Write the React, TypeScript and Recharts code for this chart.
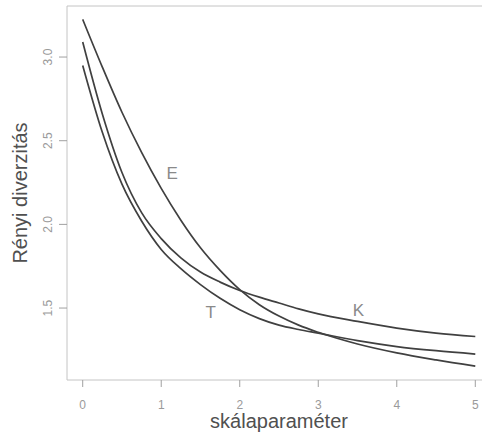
import React from 'react';
import { LineChart, Line, XAxis, YAxis, ReferenceArea, ReferenceDot } from 'recharts';

// scale parameter values (x)
const scaleParams = [0, 0.25, 0.5, 0.75, 1, 1.25, 1.5, 1.75, 2, 2.25, 2.5, 2.75, 3, 3.5, 4, 4.5, 5];

// Renyi diversity profiles
const seriesE = [3.225, 2.94, 2.67, 2.43, 2.215, 2.025, 1.86, 1.725, 1.61, 1.52, 1.452, 1.398, 1.355, 1.285, 1.232, 1.19, 1.153];
const seriesK = [3.09, 2.66, 2.31, 2.07, 1.915, 1.8, 1.715, 1.655, 1.605, 1.565, 1.53, 1.495, 1.465, 1.42, 1.38, 1.35, 1.33];
const seriesT = [2.95, 2.55, 2.24, 2.02, 1.85, 1.735, 1.64, 1.558, 1.49, 1.437, 1.398, 1.372, 1.35, 1.305, 1.27, 1.245, 1.225];

const xTicks = [0, 1, 2, 3, 4, 5];
const yTicks = [1.5, 2.0, 2.5, 3.0];

// curve name labels placed inside the plot
const curveLabels = [
  { name: 'E', x: 1.14, y: 2.31 },
  { name: 'K', x: 3.51, y: 1.488 },
  { name: 'T', x: 1.63, y: 1.476 },
];

const xDomain: [number, number] = [-0.2, 5.2];
const yDomain: [number, number] = [1.07, 3.305];

const data = scaleParams.map((s, i) => ({ s, E: seriesE[i], K: seriesK[i], T: seriesT[i] }));

const FONT = '"Liberation Sans", Arial, Helvetica, sans-serif';
const CURVE = '#404040';

const YTick = ({ x, y, payload }: any) => (
  <text
    x={x}
    y={y}
    transform={`rotate(-90, ${x}, ${y})`}
    textAnchor="middle"
    fill="#9a9a9a"
    fontSize={12}
    fontFamily={FONT}
  >
    {Number(payload.value).toFixed(1)}
  </text>
);

export default function App() {
  return (
    <div style={{ position: 'absolute', left: 0, top: 0, width: 482, height: 434, overflow: 'hidden', background: '#fff' }}>
      <LineChart width={491} height={434} data={data} margin={{ top: 6, right: 0, bottom: 0, left: 0 }}>
        <XAxis
          dataKey="s"
          type="number"
          domain={xDomain}
          ticks={xTicks}
          allowDataOverflow
          height={54}
          axisLine={false}
          tickSize={7}
          tickMargin={13}
          tickLine={{ stroke: '#a0a0a0' }}
          tick={{ fill: '#9a9a9a', fontSize: 12, fontFamily: FONT }}
          label={{ value: 'skálaparaméter', position: 'insideBottom', offset: 6, fill: '#505050', fontSize: 20, fontFamily: FONT }}
        />
        <YAxis
          type="number"
          domain={yDomain}
          ticks={yTicks}
          allowDataOverflow
          width={67}
          axisLine={false}
          tickSize={8}
          tickMargin={7}
          tickLine={{ stroke: '#a0a0a0' }}
          tick={<YTick />}
          label={{
            value: 'Rényi diverzitás',
            angle: -90,
            position: 'insideLeft',
            offset: 20,
            fill: '#505050',
            fontSize: 20,
            fontFamily: FONT,
            style: { textAnchor: 'middle' },
          }}
        />
        <ReferenceArea
          x1={xDomain[0]}
          x2={xDomain[1]}
          y1={yDomain[0]}
          y2={yDomain[1]}
          fill="none"
          stroke="#c4c4c4"
          strokeWidth={1}
        />
        <Line type="monotone" dataKey="E" stroke={CURVE} strokeWidth={1.7} dot={false} isAnimationActive={false} />
        <Line type="monotone" dataKey="K" stroke={CURVE} strokeWidth={1.7} dot={false} isAnimationActive={false} />
        <Line type="monotone" dataKey="T" stroke={CURVE} strokeWidth={1.7} dot={false} isAnimationActive={false} />
        {curveLabels.map((l) => (
          <ReferenceDot
            key={l.name}
            x={l.x}
            y={l.y}
            r={0}
            fill="none"
            stroke="none"
            label={{ value: l.name, position: 'center', fill: '#8a8a8a', fontSize: 17, fontFamily: FONT }}
          />
        ))}
      </LineChart>
    </div>
  );
}
